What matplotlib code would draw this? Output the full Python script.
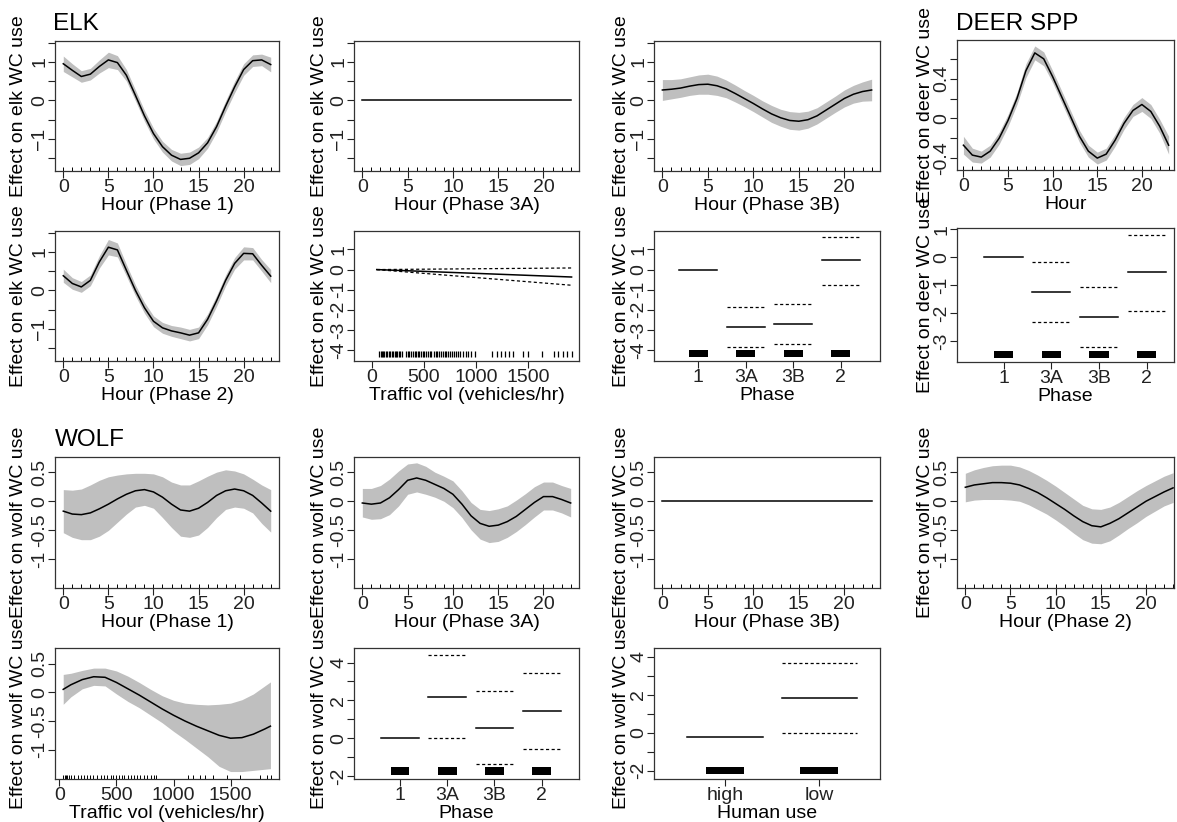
import numpy as np
import matplotlib
matplotlib.use("Agg")
import matplotlib.pyplot as plt

plt.rcParams['font.family'] = ['Liberation Sans', 'DejaVu Sans']

W, H = 1177, 822
FS = 14
BAND = '#bfbfbf'

HOURS = list(range(24))

# ---- ELK, hour smooths (fit and se) ----
elk_p1_fit = [0.95, 0.78, 0.62, 0.68, 0.88, 1.05, 0.98, 0.65, 0.13, -0.4, -0.86, -1.2, -1.42, -1.53, -1.5, -1.36, -1.1,
              -0.68, -0.15, 0.35, 0.8, 1.03, 1.05, 0.93]
elk_p1_se = [0.2, 0.17, 0.15, 0.15, 0.17, 0.2, 0.18, 0.15, 0.14, 0.14, 0.14, 0.14, 0.15, 0.16, 0.16, 0.15, 0.14,
             0.14, 0.14, 0.15, 0.15, 0.15, 0.15, 0.19]
elk_p3a_fit = [0.0] * 24
elk_p3b_fit = [0.27, 0.29, 0.32, 0.37, 0.41, 0.42, 0.38, 0.3, 0.18, 0.05, -0.08, -0.22, -0.35, -0.45, -0.52, -0.54,
               -0.5, -0.4, -0.25, -0.1, 0.05, 0.16, 0.23, 0.27]
elk_p3b_se = [0.27, 0.25, 0.24, 0.24, 0.25, 0.26, 0.25, 0.23, 0.22, 0.21, 0.21, 0.21, 0.22, 0.22, 0.23, 0.23,
              0.22, 0.21, 0.21, 0.21, 0.22, 0.23, 0.25, 0.28]
elk_p2_fit = [0.38, 0.18, 0.09, 0.26, 0.74, 1.12, 1.05, 0.52, 0.0, -0.45, -0.8, -0.97, -1.05, -1.1, -1.16, -1.1,
              -0.75, -0.27, 0.26, 0.7, 0.96, 0.95, 0.65, 0.37]
elk_p2_se = [0.17, 0.15, 0.14, 0.14, 0.16, 0.2, 0.18, 0.15, 0.14, 0.14, 0.14, 0.14, 0.14, 0.15, 0.15, 0.15,
             0.14, 0.14, 0.14, 0.15, 0.17, 0.16, 0.15, 0.17]

# ---- DEER, hour smooth ----
deer_fit = [-0.27, -0.37, -0.39, -0.33, -0.2, -0.02, 0.2, 0.48, 0.66, 0.6, 0.42, 0.22, 0.02, -0.18, -0.33, -0.4,
            -0.36, -0.22, -0.05, 0.08, 0.14, 0.07, -0.08, -0.27]
deer_se = [0.09, 0.07, 0.06, 0.06, 0.06, 0.06, 0.06, 0.07, 0.07, 0.07, 0.06, 0.06, 0.06, 0.06, 0.06, 0.06,
           0.06, 0.06, 0.06, 0.06, 0.07, 0.07, 0.07, 0.09]

# ---- ELK / DEER traffic & phase ----
elk_traffic_x = [48, 1915]
elk_traffic_fit = [0.0, -0.37]
elk_traffic_hi = [0.0, 0.08]
elk_traffic_lo = [0.0, -0.78]
elk_traffic_rug = [73, 85, 98, 110, 122, 135, 150, 165, 178, 190, 205, 220, 232, 245, 260, 275, 290, 330, 345,
                   360, 378, 392, 410, 425, 440, 455, 470, 490, 505, 520, 540, 555, 570, 600, 615, 630, 648, 662,
                   680, 700, 715, 735, 750, 770, 790, 810, 830, 850, 875, 900, 925, 950, 990,
                   1155, 1197, 1238, 1276, 1318, 1356, 1452, 1500, 1627, 1745, 1787, 1829, 1873, 1915]

phases = ['1', '3A', '3B', '2']
elk_phase_fit = [0.0, -2.85, -2.72, 0.47]
elk_phase_hi = [np.nan, -1.87, -1.72, 1.63]
elk_phase_lo = [np.nan, -3.87, -3.72, -0.78]
deer_phase_fit = [0.0, -1.25, -2.15, -0.54]
deer_phase_hi = [np.nan, -0.16, -1.07, 0.78]
deer_phase_lo = [np.nan, -2.33, -3.22, -1.91]

# ---- WOLF ----
wolf_p1_fit = [-0.17, -0.22, -0.23, -0.2, -0.13, -0.05, 0.04, 0.12, 0.18, 0.2, 0.16, 0.07, -0.05, -0.15, -0.17,
               -0.12, -0.02, 0.1, 0.18, 0.21, 0.18, 0.1, -0.03, -0.17]
wolf_p1_hi = [0.2, 0.19, 0.21, 0.28, 0.36, 0.42, 0.45, 0.47, 0.48, 0.48, 0.47, 0.42, 0.33, 0.28, 0.28, 0.35,
              0.43, 0.5, 0.54, 0.52, 0.47, 0.38, 0.28, 0.2]
wolf_p1_lo = [-0.54, -0.62, -0.66, -0.66, -0.6, -0.5, -0.36, -0.22, -0.1, -0.07, -0.12, -0.28, -0.45, -0.6,
              -0.62, -0.58, -0.45, -0.28, -0.14, -0.1, -0.12, -0.2, -0.38, -0.53]
wolf_p3a_fit = [-0.03, -0.05, -0.03, 0.06, 0.2, 0.36, 0.4, 0.36, 0.29, 0.22, 0.12, -0.05, -0.25, -0.38, -0.43,
                -0.41, -0.35, -0.26, -0.14, -0.02, 0.08, 0.08, 0.03, -0.03]
wolf_p3a_hi = [0.22, 0.22, 0.27, 0.38, 0.52, 0.64, 0.66, 0.6, 0.5, 0.43, 0.35, 0.18, -0.02, -0.14, -0.16, -0.13,
               -0.08, 0.02, 0.13, 0.25, 0.33, 0.33, 0.27, 0.22]
wolf_p3a_lo = [-0.27, -0.31, -0.3, -0.23, -0.08, 0.12, 0.16, 0.12, 0.07, 0.0, -0.11, -0.28, -0.49, -0.65, -0.71,
               -0.69, -0.62, -0.52, -0.4, -0.27, -0.15, -0.15, -0.2, -0.27]
wolf_p3b_fit = [0.0] * 24
wolf_p2_fit = [0.24, 0.28, 0.3, 0.32, 0.32, 0.31, 0.28, 0.22, 0.15, 0.06, -0.04, -0.14, -0.25, -0.35, -0.42,
               -0.44, -0.38, -0.3, -0.2, -0.1, 0.0, 0.08, 0.16, 0.23]
wolf_p2_hi = [0.48, 0.54, 0.58, 0.61, 0.62, 0.62, 0.59, 0.53, 0.45, 0.36, 0.26, 0.15, 0.04, -0.07, -0.13, -0.14,
              -0.1, -0.02, 0.08, 0.18, 0.27, 0.35, 0.43, 0.49]
wolf_p2_lo = [-0.01, 0.02, 0.03, 0.03, 0.03, 0.02, 0.0, -0.06, -0.14, -0.22, -0.32, -0.43, -0.55, -0.66, -0.72,
              -0.73, -0.68, -0.58, -0.47, -0.37, -0.26, -0.17, -0.08, -0.02]

wolf_traffic_x = [33, 100, 200, 300, 400, 500, 600, 700, 800, 900, 1000, 1100, 1200, 1300, 1400, 1500, 1600,
                  1700, 1800, 1850]
wolf_traffic_fit = [0.05, 0.13, 0.22, 0.27, 0.26, 0.17, 0.06, -0.05, -0.17, -0.29, -0.4, -0.5, -0.59, -0.67,
                    -0.75, -0.8, -0.79, -0.73, -0.64, -0.59]
wolf_traffic_hi = [0.31, 0.33, 0.38, 0.42, 0.42, 0.37, 0.28, 0.17, 0.05, -0.06, -0.14, -0.19, -0.21, -0.22,
                   -0.21, -0.19, -0.13, -0.03, 0.11, 0.18]
wolf_traffic_lo = [-0.21, -0.08, 0.06, 0.12, 0.11, -0.03, -0.16, -0.27, -0.4, -0.53, -0.68, -0.82, -0.97, -1.12,
                   -1.29, -1.38, -1.38, -1.36, -1.34, -1.33]
wolf_traffic_rug = [33, 45, 58, 70, 85, 100, 130, 160, 190, 215, 240, 265, 290, 330, 360, 390, 420, 450, 470,
                    500, 520, 545, 570, 600, 625, 650, 680, 710, 740, 770, 800, 830, 850,
                    1129, 1172, 1231, 1275, 1348, 1465, 1582, 1757, 1816, 1854]

wolf_phase_fit = [0.0, 2.19, 0.56, 1.44]
wolf_phase_hi = [np.nan, 4.42, 2.49, 3.46]
wolf_phase_lo = [np.nan, 0.0, -1.37, -0.58]

human = ['high', 'low']
human_fit = [-0.25, 1.83]
human_hi = [np.nan, 3.68]
human_lo = [np.nan, -0.03]

fig = plt.figure(figsize=(W / 100, H / 100), dpi=100)


def make_ax(left, top, right, bottom):
    return fig.add_axes([left / W, 1 - bottom / H, (right - left) / W, (bottom - top) / H])


def style(ax, box, xlim, ylim, yticks, ylabs, xticks, xlabs, xlabel, ylabel, ylab_px):
    left, top, right, bottom = box
    ax.set_xlim(*xlim)
    ax.set_ylim(*ylim)
    ax.set_yticks(yticks)
    ax.set_yticklabels(ylabs)
    ax.set_xticks(xticks)
    ax.set_xticklabels(xlabs)
    ax.tick_params(length=5, width=0.8, colors='#222222', labelsize=FS, pad=1)
    ax.tick_params(axis='y', pad=0)
    for lab in ax.get_yticklabels():
        lab.set_rotation(90)
        lab.set_va('center')
    for s in ax.spines.values():
        s.set_linewidth(0.9)
        s.set_color('#333333')
    ax.set_xlabel(xlabel, fontsize=FS, va='baseline')
    ax.xaxis.set_label_coords(0.5, -39 / (bottom - top))
    ax.set_ylabel(ylabel, fontsize=FS, va='center')
    ax.yaxis.set_label_coords((ylab_px - left) / (right - left), 0.5)


def rug(ax, xs, frac=0.03):
    ax.vlines(xs, 0, frac, transform=ax.get_xaxis_transform(), color='black', lw=0.7)


def hour_panel(box, fit, lo, hi, ylim, yticks, ylabs, xlabel, ylabel, ylab_px, xlim=(-0.92, 23.92)):
    ax = make_ax(*box)
    if lo is not None:
        ax.fill_between(HOURS, lo, hi, color=BAND, lw=0)
    ax.plot(HOURS, fit, color='black', lw=1.1)
    rug(ax, HOURS)
    style(ax, box, xlim, ylim, yticks, ylabs, [0, 5, 10, 15, 20], ['0', '5', '10', '15', '20'],
          xlabel, ylabel, ylab_px)
    return ax


def factor_panel(box, cats, fit, lo, hi, rug_lo, rug_hi, xlim, ylim, yticks, ylabs, xlabel, ylabel, ylab_px):
    ax = make_ax(*box)
    pos = np.arange(1, len(cats) + 1)
    for p, f, l, h in zip(pos, fit, lo, hi):
        ax.plot([p - 0.4, p + 0.4], [f, f], color='black', lw=1.1)
        if not np.isnan(h):
            ax.plot([p - 0.4, p + 0.4], [h, h], color='black', lw=0.9, ls=(0, (2.5, 2)))
            ax.plot([p - 0.4, p + 0.4], [l, l], color='black', lw=0.9, ls=(0, (2.5, 2)))
    ax.bar(pos, rug_hi - rug_lo, bottom=rug_lo, width=0.4, color='black')
    style(ax, box, xlim, ylim, yticks, ylabs, pos, cats, xlabel, ylabel, ylab_px)
    return ax


def band(fit, se, sign):
    return [f + sign * s for f, s in zip(fit, se)]


C1, C2, C3, C4 = (55, 279), (354, 579), (654, 880), (957, 1174)
R1, R2, R3, R4 = (41, 171), (231, 361), (457, 588), (648, 779)
YL = [19, 320, 621, 925]

elk_ylim = (-1.83, 1.54)
elk_yt = [-1.5, -1, -0.5, 0, 0.5, 1, 1.5]
elk_yl = ['', '\u22121', '', '0', '', '1', '']
elk_lab = 'Effect on elk WC use'
deer_lab = 'Effect on deer WC use'
wolf_lab = 'Effect on wolf WC use'

# row 1
hour_panel((C1[0], R1[0], C1[1], R1[1]), elk_p1_fit, band(elk_p1_fit, elk_p1_se, -1), band(elk_p1_fit, elk_p1_se, 1),
           elk_ylim, elk_yt, elk_yl, 'Hour (Phase 1)', elk_lab, YL[0])
hour_panel((C2[0], R1[0], C2[1], R1[1]), elk_p3a_fit, None, None,
           elk_ylim, elk_yt, elk_yl, 'Hour (Phase 3A)', elk_lab, YL[1])
hour_panel((C3[0], R1[0], C3[1], R1[1]), elk_p3b_fit, band(elk_p3b_fit, elk_p3b_se, -1),
           band(elk_p3b_fit, elk_p3b_se, 1), elk_ylim, elk_yt, elk_yl, 'Hour (Phase 3B)', elk_lab, YL[2])
hour_panel((C4[0], 40, C4[1], 170), deer_fit, band(deer_fit, deer_se, -1), band(deer_fit, deer_se, 1),
           (-0.52, 0.79), [-0.4, -0.2, 0, 0.2, 0.4, 0.6], ['-0.4', '', '0', '', '0.4', ''],
           'Hour', deer_lab, YL[3], xlim=(-0.72, 23.6))

# row 2
hour_panel((C1[0], R2[0], C1[1], R2[1]), elk_p2_fit, band(elk_p2_fit, elk_p2_se, -1), band(elk_p2_fit, elk_p2_se, 1),
           elk_ylim, elk_yt, elk_yl, 'Hour (Phase 2)', elk_lab, YL[0])

box = (C2[0], R2[0], C2[1], R2[1])
ax = make_ax(*box)
ax.plot(elk_traffic_x, elk_traffic_fit, color='black', lw=1.1)
ax.plot(elk_traffic_x, elk_traffic_hi, color='black', lw=0.9, ls=(0, (2.5, 2)))
ax.plot(elk_traffic_x, elk_traffic_lo, color='black', lw=0.9, ls=(0, (2.5, 2)))
ax.vlines(elk_traffic_rug, -4.33, -4.03, color='black', lw=0.9)
style(ax, box, (-170, 1986), (-4.55, 1.92), [-4, -3, -2, -1, 0, 1], ['-4', '-3', '-2', '-1', '0', '1'],
      [0, 500, 1000, 1500], ['0', '500', '1000', '1500'], 'Traffic vol (vehicles/hr)', elk_lab, YL[1])

factor_panel((C3[0], R2[0], C3[1], R2[1]), phases, elk_phase_fit, elk_phase_lo, elk_phase_hi, -4.33, -4.0,
             (0.067, 4.83), (-4.55, 1.92), [-4, -3, -2, -1, 0, 1], ['-4', '-3', '-2', '-1', '0', '1'],
             'Phase', elk_lab, YL[2])
factor_panel((C4[0], 228, C4[1], 362), phases, deer_phase_fit, deer_phase_lo, deer_phase_hi, -3.58, -3.34,
             (0.025, 4.57), (-3.74, 1.04), [-3, -2, -1, 0, 1], ['-3', '-2', '-1', '0', '1'],
             'Phase', deer_lab, YL[3])

# row 3
wolf_ylim = (-1.49, 0.76)
wolf_yt = [-1, -0.5, 0, 0.5]
wolf_yl = ['-1', '-0.5', '0', '0.5']
hour_panel((C1[0], R3[0], C1[1], R3[1]), wolf_p1_fit, wolf_p1_lo, wolf_p1_hi,
           wolf_ylim, wolf_yt, wolf_yl, 'Hour (Phase 1)', wolf_lab, YL[0])
hour_panel((C2[0], R3[0], C2[1], R3[1]), wolf_p3a_fit, wolf_p3a_lo, wolf_p3a_hi,
           wolf_ylim, wolf_yt, wolf_yl, 'Hour (Phase 3A)', wolf_lab, YL[1])
hour_panel((C3[0], R3[0], C3[1], R3[1]), wolf_p3b_fit, None, None,
           wolf_ylim, wolf_yt, wolf_yl, 'Hour (Phase 3B)', wolf_lab, YL[2])
hour_panel((C4[0], R3[0], C4[1], R3[1]), wolf_p2_fit, wolf_p2_lo, wolf_p2_hi,
           wolf_ylim, wolf_yt, wolf_yl, 'Hour (Phase 2)', wolf_lab, YL[3], xlim=(-0.92, 23.1))

# row 4
box = (C1[0], R4[0], C1[1], R4[1])
ax = make_ax(*box)
ax.fill_between(wolf_traffic_x, wolf_traffic_lo, wolf_traffic_hi, color=BAND, lw=0)
ax.plot(wolf_traffic_x, wolf_traffic_fit, color='black', lw=1.1)
rug(ax, wolf_traffic_rug)
style(ax, box, (-39, 1925), (-1.51, 0.77), wolf_yt, wolf_yl,
      [0, 500, 1000, 1500], ['0', '500', '1000', '1500'], 'Traffic vol (vehicles/hr)', wolf_lab, YL[0])

factor_panel((C2[0], R4[0], C2[1], R4[1]), phases, wolf_phase_fit, wolf_phase_lo, wolf_phase_hi, -1.93, -1.54,
             (0.025, 4.79), (-2.16, 4.77), [-2, -1, 0, 1, 2, 3, 4], ['-2', '', '0', '', '2', '', '4'],
             'Phase', wolf_lab, YL[1])
factor_panel((C3[0], R4[0], C3[1], R4[1]), human, human_fit, human_lo, human_hi, -2.2, -1.81,
             (0.253, 2.64), (-2.44, 4.45), [-2, -1, 0, 1, 2, 3, 4], ['-2', '', '0', '', '2', '', '4'],
             'Human use', wolf_lab, YL[2])

# group titles
fig.text(53 / W, 1 - 30 / H, 'ELK', fontsize=17.5, va='baseline', ha='left')
fig.text(956 / W, 1 - 30 / H, 'DEER SPP', fontsize=17.5, va='baseline', ha='left')
fig.text(55 / W, 1 - 446 / H, 'WOLF', fontsize=17.5, va='baseline', ha='left')

fig.savefig('out.png', dpi=100)
